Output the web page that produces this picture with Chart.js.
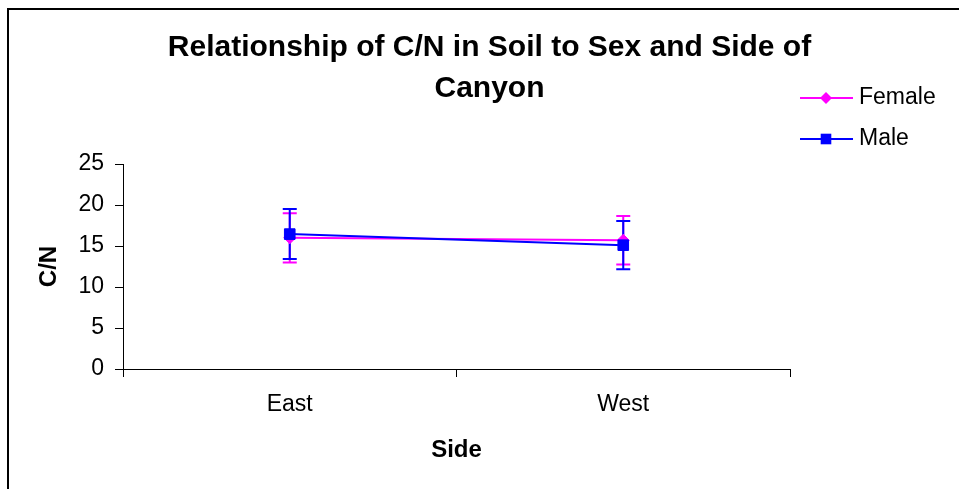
<!DOCTYPE html>
<html>
<head>
<meta charset="utf-8">
<title>Relationship of C/N in Soil to Sex and Side of Canyon</title>
<script src="https://cdn.jsdelivr.net/npm/chart.js@4.4.1/dist/chart.umd.min.js"></script>
<style>
  html, body { margin: 0; padding: 0; background: #fff; overflow: hidden; }
  #wrap { position: relative; width: 959px; height: 489px; overflow: hidden; }
  #frame { position: absolute; left: 7px; top: 8px; width: 1000px; height: 1000px;
           border-left: 2px solid #000; border-top: 2px solid #000; }
  #cn-chart { position: absolute; left: 0; top: 0; }
</style>
</head>
<body>
<div id="wrap">
  <div id="frame"></div>
  <canvas id="cn-chart" width="959" height="489"></canvas>
</div>
<script>
// chart data
var sides = ['East', 'West'];
var seriesNames = ['Female', 'Male'];
var femaleMeans = [16.0, 15.7];
var femaleErrors = [3.0, 2.95];
var maleMeans = [16.45, 15.1];
var maleErrors = [3.05, 2.95];
var yTicks = [0, 5, 10, 15, 20, 25];

var fontFamily = '"Liberation Sans", Arial, Helvetica, sans-serif';
Chart.defaults.font.family = fontFamily;
Chart.defaults.color = '#000';

// draw a diamond or square marker
function drawMarker(ctx, style, r, x, y) {
    ctx.beginPath();
    if (style === 'rectRot') {
        ctx.moveTo(x, y - r);
        ctx.lineTo(x + r, y);
        ctx.lineTo(x, y + r);
        ctx.lineTo(x - r, y);
    } else {
        var h = r * Math.SQRT1_2;
        ctx.rect(x - h, y - h, h * 2, h * 2);
    }
    ctx.closePath();
    ctx.fill();
}

// vertical error bars with caps, under the lines and markers
var errorBarPlugin = {
    id: 'errorBars',
    beforeDatasetsDraw: function(chart) {
        var ctx = chart.ctx;
        var yScale = chart.scales.y;
        chart.data.datasets.forEach(function(ds, i) {
            var meta = chart.getDatasetMeta(i);
            ctx.save();
            ctx.strokeStyle = ds.borderColor;
            ctx.lineWidth = 2;
            meta.data.forEach(function(pt, j) {
                var top = yScale.getPixelForValue(ds.data[j] + ds.errors[j]);
                var bottom = yScale.getPixelForValue(ds.data[j] - ds.errors[j]);
                ctx.beginPath();
                ctx.moveTo(pt.x, top);
                ctx.lineTo(pt.x, bottom);
                ctx.moveTo(pt.x - 7, top);
                ctx.lineTo(pt.x + 7, top);
                ctx.moveTo(pt.x - 7, bottom);
                ctx.lineTo(pt.x + 7, bottom);
                ctx.stroke();
            });
            ctx.restore();
        });
    }
};

// legend at the top right, beside the title
var legendPlugin = {
    id: 'sideLegend',
    afterDraw: function(chart) {
        var ctx = chart.ctx;
        var rows = [98, 139];
        chart.data.datasets.forEach(function(ds, i) {
            var y = rows[i];
            ctx.save();
            ctx.strokeStyle = ds.borderColor;
            ctx.lineWidth = 2;
            ctx.beginPath();
            ctx.moveTo(800, y);
            ctx.lineTo(853, y);
            ctx.stroke();
            ctx.fillStyle = ds.backgroundColor;
            drawMarker(ctx, ds.pointStyle, ds.pointRadius, 826, y);
            ctx.fillStyle = '#000';
            ctx.font = '23px ' + fontFamily;
            ctx.textAlign = 'left';
            ctx.textBaseline = 'middle';
            ctx.fillText(ds.label, 859, y);
            ctx.restore();
        });
    }
};

var ctx = document.getElementById('cn-chart').getContext('2d');
var cnChart = new Chart(ctx, {
    type: 'line',
    data: {
        labels: sides,
        datasets: [
            {
                label: seriesNames[0],
                data: femaleMeans,
                errors: femaleErrors,
                yAxisID: 'y',
                borderColor: '#FF00FF',
                backgroundColor: '#FF00FF',
                borderWidth: 2,
                pointStyle: 'rectRot',
                pointRadius: 6,
                pointBorderWidth: 1,
                tension: 0,
                order: 1
            },
            {
                label: seriesNames[1],
                data: maleMeans,
                errors: maleErrors,
                yAxisID: 'y',
                borderColor: '#0000FF',
                backgroundColor: '#0000FF',
                borderWidth: 2,
                pointStyle: 'rect',
                pointRadius: 7.5,
                pointBorderWidth: 1,
                tension: 0,
                order: 0
            }
        ]
    },
    options: {
        responsive: false,
        animation: false,
        devicePixelRatio: 1,
        events: [],
        layout: { padding: { left: 20, right: 0, top: 0, bottom: 0 } },
        plugins: {
            legend: { display: false },
            tooltip: { enabled: false },
            title: {
                display: true,
                text: ['Relationship of C/N in Soil to Sex and Side of', 'Canyon'],
                color: '#000',
                font: { size: 30, weight: 'bold', lineHeight: '41px' },
                padding: { top: 27, bottom: 55 }
            }
        },
        scales: {
            x: {
                type: 'category',
                offset: true,
                grid: { offset: true, drawOnChartArea: false, tickLength: 8, color: '#000' },
                border: { color: '#000', width: 1 },
                ticks: { color: '#000', font: { size: 23 }, padding: 14, maxRotation: 0, autoSkip: false },
                title: {
                    display: true,
                    text: 'Side',
                    color: '#000',
                    font: { size: 24, weight: 'bold' },
                    padding: { top: 0, bottom: 24 }
                },
                afterFit: function(scale) { scale.height = 120; }
            },
            y: {
                position: 'left',
                min: 0,
                max: 25,
                grid: { drawOnChartArea: false, tickLength: 8, color: '#000' },
                border: { color: '#000', width: 1 },
                ticks: { color: '#000', font: { size: 23 }, padding: 11 },
                afterBuildTicks: function(axis) {
                    axis.ticks = yTicks.map(function(v) { return { value: v }; });
                },
                title: {
                    display: true,
                    text: 'C/N',
                    color: '#000',
                    font: { size: 24, weight: 'bold' },
                    padding: { top: 15, bottom: 0 }
                },
                afterFit: function(scale) { scale.width = 103; }
            },
            // empty axis that only keeps the space on the right for the legend
            yRight: {
                position: 'right',
                grid: { display: false },
                border: { display: false },
                ticks: { display: false },
                afterFit: function(scale) { scale.width = 169; }
            }
        }
    },
    plugins: [errorBarPlugin, legendPlugin]
});
</script>
</body>
</html>
